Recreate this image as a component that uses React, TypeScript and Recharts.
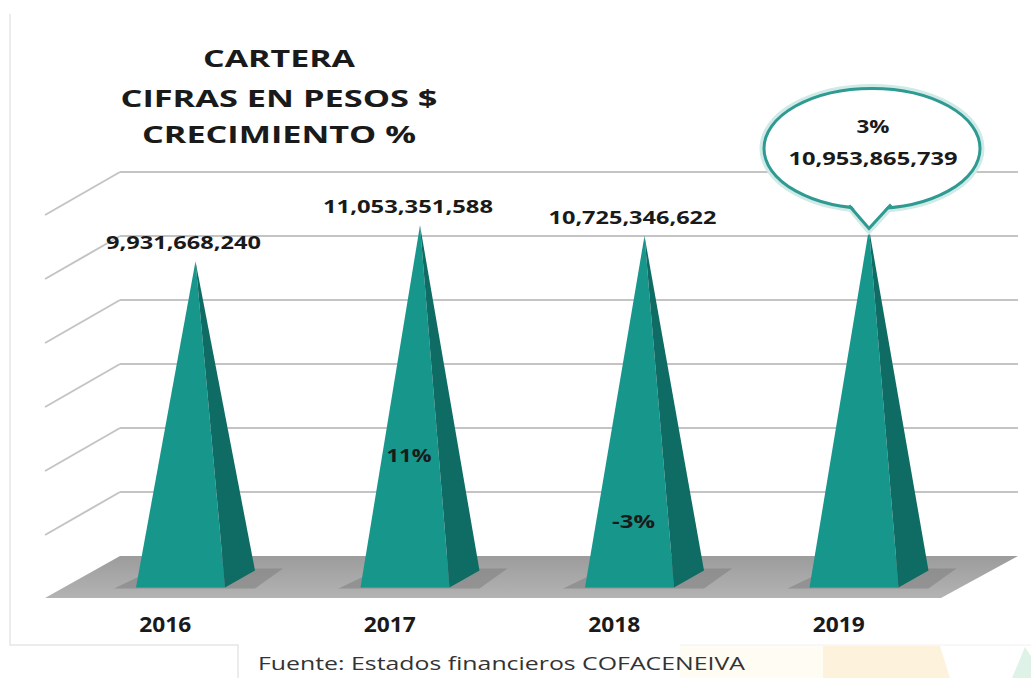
import React from 'react';
import { BarChart, Bar, XAxis, YAxis, CartesianGrid } from 'recharts';

// chart values
const years = ['2016', '2017', '2018', '2019'];
const cartera = [9931668240, 11053351588, 10725346622, 10953865739];
const crecimiento = ['', '11%', '-3%', '3%'];
const yTicks = [0, 2e9, 4e9, 6e9, 8e9, 10e9, 12e9];
const titleLines = ['CARTERA', 'CIFRAS EN PESOS $', 'CRECIMIENTO %'];
const fuente = 'Fuente: Estados financieros COFACENEIVA';

const data = years.map((year, i) => ({ year, value: cartera[i], growth: crecimiento[i] }));

const W = 1031;
const H = 678;
const PLOT_BOTTOM = 556;
// perspective depth of the back wall / floor
const DEPTH_X = 75;
const DEPTH_Y = 43;
// pyramids sit half way into the depth
const PYR_DX = 37;
const PYR_DY = 23;

const FONT = '"Open Sans", "DejaVu Sans", sans-serif';
const fmt = (v: number) => v.toLocaleString('en-US');

// growth labels lift above the pyramid base (px)
const growthLift = [0, 117, 51, 0];
const textWidths = { value: [155, 170, 168, 169], growth: [0, 45, 43, 33] };

const GridLine = (p: any) => {
  const { x1, x2, y1 } = p;
  if (y1 > PLOT_BOTTOM - 2) {
    return (
      <g key={`floor-${y1}`}>
        <defs>
          <linearGradient id="floorGrad" x1="0" y1="0" x2="0" y2="1">
            <stop offset="0%" stopColor="#9c9c9c" />
            <stop offset="100%" stopColor="#b3b3b3" />
          </linearGradient>
        </defs>
        <polygon
          points={`${x1},${y1} ${x2},${y1} ${x2 - DEPTH_X - 2},${y1 + DEPTH_Y - 1} ${x1 - DEPTH_X},${y1 + DEPTH_Y - 1}`}
          fill="url(#floorGrad)"
        />
      </g>
    );
  }
  return (
    <g key={`grid-${y1}`}>
      <line x1={x1} y1={y1} x2={x2} y2={y1} stroke="#c4c4c4" strokeWidth={2} />
      <line x1={x1} y1={y1} x2={x1 - DEPTH_X} y2={y1 + DEPTH_Y} stroke="#c4c4c4" strokeWidth={2} />
    </g>
  );
};

const Pyramid = (props: any) => {
  const { x, y, width, height, index, payload } = props;
  const cx = x + width / 2 - PYR_DX;
  const baseY = y + height + PYR_DY;
  const apexY = y + PYR_DY;
  const hw = width / 2;
  const dx = 15;
  const dy = 8.5;
  const fl = [cx - hw - dx, baseY + dy];
  const fr = [cx + hw - dx, baseY + dy];
  const br = [cx + hw + dx, baseY - dy];
  const pts = (a: number[][]) => a.map((p) => p.join(',')).join(' ');
  const isLast = index === data.length - 1;

  return (
    <g>
      {/* shadow on the floor */}
      <polygon
        points={pts([
          [fl[0] - 22, fl[1] + 1],
          [fr[0] + 30, fl[1] + 1],
          [br[0] + 28, br[1] - 2],
          [fl[0] + 20, br[1] - 2],
        ])}
        fill="#7d7d7d"
        opacity={0.55}
      />
      <polygon points={pts([fl, fr, [cx, apexY]])} fill="#17968c" />
      <polygon points={pts([fr, br, [cx, apexY]])} fill="#0e6c65" />

      {!isLast && (
        <text
          x={cx - 12}
          y={apexY - 12}
          textAnchor="middle"
          fontFamily={FONT}
          fontWeight={700}
          fontSize={18}
          fill="#1a1a1a"
          textLength={textWidths.value[index]}
          lengthAdjust="spacingAndGlyphs"
        >
          {fmt(payload.value)}
        </text>
      )}
      {payload.growth && !isLast && (
        <text
          x={cx - 11}
          y={baseY - growthLift[index]}
          textAnchor="middle"
          fontFamily={FONT}
          fontWeight={700}
          fontSize={17}
          fill="#1a1a1a"
          textLength={textWidths.growth[index]}
          lengthAdjust="spacingAndGlyphs"
        >
          {payload.growth}
        </text>
      )}
      {isLast && (
        <g>
          <ellipse cx={cx + 3} cy={apexY - 80} rx={108} ry={60} fill="none" stroke="#cfeae7" strokeWidth={9} />
          <path
            d={`M ${cx - 20} ${apexY - 24} L ${cx} ${apexY} L ${cx + 22} ${apexY - 24}`}
            fill="none"
            stroke="#cfeae7"
            strokeWidth={9}
          />
          <ellipse cx={cx + 3} cy={apexY - 80} rx={108} ry={60} fill="#ffffff" stroke="#2e9a92" strokeWidth={3} />
          <polygon
            points={pts([
              [cx - 20, apexY - 26],
              [cx, apexY - 2],
              [cx + 22, apexY - 26],
            ])}
            fill="#ffffff"
          />
          <path
            d={`M ${cx - 20} ${apexY - 23} L ${cx} ${apexY} L ${cx + 22} ${apexY - 24}`}
            fill="none"
            stroke="#2e9a92"
            strokeWidth={3}
          />
          <text
            x={cx + 4}
            y={apexY - 95}
            textAnchor="middle"
            fontFamily={FONT}
            fontWeight={700}
            fontSize={17}
            fill="#1a1a1a"
            textLength={textWidths.growth[index]}
            lengthAdjust="spacingAndGlyphs"
          >
            {payload.growth}
          </text>
          <text
            x={cx + 4}
            y={apexY - 63}
            textAnchor="middle"
            fontFamily={FONT}
            fontWeight={700}
            fontSize={18}
            fill="#1a1a1a"
            textLength={textWidths.value[index]}
            lengthAdjust="spacingAndGlyphs"
          >
            {fmt(payload.value)}
          </text>
        </g>
      )}
    </g>
  );
};

const YearTick = (props: any) => {
  const { x, payload } = props;
  return (
    <text
      x={x - PYR_DX - 30}
      y={632}
      textAnchor="middle"
      fontFamily={FONT}
      fontWeight={700}
      fontSize={21}
      fill="#1a1a1a"
      textLength={52}
      lengthAdjust="spacingAndGlyphs"
    >
      {payload.value}
    </text>
  );
};

const NoTick = () => <g />;

const titleLayout = [
  { y: 67, w: 152 },
  { y: 107, w: 317 },
  { y: 143, w: 274 },
];

export default function App() {
  return (
    <div style={{ position: 'fixed', left: 0, top: 0, width: W, height: H, background: '#ffffff' }}>
      <BarChart
        width={W}
        height={H}
        data={data}
        margin={{ top: 172, right: 13, bottom: 32, left: 40 }}
      >
        <CartesianGrid vertical={false} horizontal={GridLine} horizontalValues={yTicks} />
        <XAxis
          dataKey="year"
          height={90}
          axisLine={false}
          tickLine={false}
          tick={<YearTick />}
          interval={0}
        />
        <YAxis
          width={80}
          domain={[0, 12e9]}
          ticks={yTicks}
          interval={0}
          tick={<NoTick />}
          axisLine={false}
          tickLine={false}
        />
        <Bar dataKey="value" barSize={89} shape={<Pyramid />} isAnimationActive={false} />
      </BarChart>

      <svg
        width={W}
        height={H}
        style={{ position: 'absolute', left: 0, top: 0, pointerEvents: 'none' }}
      >
        {/* frame of the pasted chart */}
        <polyline points="10,14 10,645 238,645 238,678" fill="none" stroke="#e6e6e6" strokeWidth={1.5} />
        <line x1={680} y1={645} x2={1031} y2={645} stroke="#f0f0f0" strokeWidth={1} />
        <rect x={680} y={646} width={143} height={32} fill="#fffcf4" />
        <polygon points="823,646 940,646 950,678 823,678" fill="#fdf3dc" />
        <polygon points="1025,647 1045,678 1012,678" fill="#dff2e7" />

        {titleLines.map((t, i) => (
          <text
            key={t}
            x={279}
            y={titleLayout[i].y}
            textAnchor="middle"
            fontFamily={FONT}
            fontWeight={700}
            fontSize={24}
            fill="#1a1a1a"
            textLength={titleLayout[i].w}
            lengthAdjust="spacingAndGlyphs"
          >
            {t}
          </text>
        ))}

        <text
          x={258}
          y={670}
          fontFamily={FONT}
          fontSize={19}
          fill="#333333"
          textLength={487}
          lengthAdjust="spacingAndGlyphs"
        >
          {fuente}
        </text>
      </svg>
    </div>
  );
}
